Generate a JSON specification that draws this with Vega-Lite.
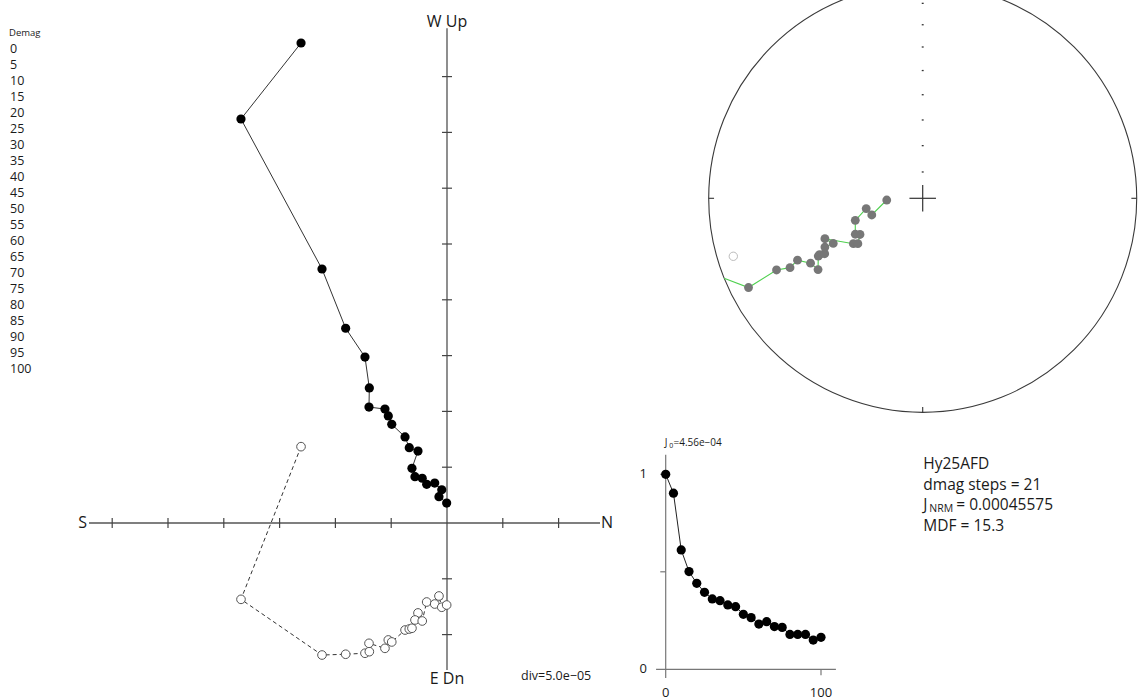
{
  "$schema": "https://vega.github.io/schema/vega-lite/v6.json",
  "width": 1141,
  "height": 700,
  "autosize": {"type": "none"},
  "padding": 0,
  "background": "white",
  "config": {"view": {"stroke": null}, "axis": {"disable": true}, "font": "Open Sans", "text": {"font": "Open Sans", "color": "#1a1a1a", "fill": "#1a1a1a"}},
  "data": {"values": [{}]},
  "datasets": {
    "zij": [
      {"step": 0, "n": -13.08, "w": 43.01, "up": 6.84},
      {"step": 5, "n": -18.46, "w": 36.20, "up": -6.84},
      {"step": 10, "n": -11.20, "w": 22.76, "up": -11.83},
      {"step": 15, "n": -9.08, "w": 17.45, "up": -11.76},
      {"step": 20, "n": -7.35, "w": 14.87, "up": -11.67},
      {"step": 25, "n": -6.96, "w": 12.10, "up": -11.53},
      {"step": 30, "n": -6.99, "w": 10.39, "up": -10.78},
      {"step": 35, "n": -5.56, "w": 10.21, "up": -11.23},
      {"step": 40, "n": -5.26, "w": 9.59, "up": -10.48},
      {"step": 45, "n": -4.95, "w": 8.84, "up": -10.66},
      {"step": 50, "n": -3.76, "w": 7.71, "up": -9.59},
      {"step": 55, "n": -3.38, "w": 6.75, "up": -9.50},
      {"step": 60, "n": -2.60, "w": 6.45, "up": -8.06},
      {"step": 65, "n": -3.14, "w": 4.90, "up": -9.43},
      {"step": 70, "n": -2.87, "w": 4.15, "up": -8.69},
      {"step": 75, "n": -2.22, "w": 4.01, "up": -8.78},
      {"step": 80, "n": -1.82, "w": 3.47, "up": -7.08},
      {"step": 85, "n": -1.10, "w": 3.58, "up": -7.26},
      {"step": 90, "n": -0.47, "w": 2.98, "up": -7.55},
      {"step": 95, "n": -0.72, "w": 2.36, "up": -6.54},
      {"step": 100, "n": -0.03, "w": 1.79, "up": -7.35}
    ],
    "decay": [
      {"step": 0, "j": 1.0}, {"step": 5, "j": 0.903}, {"step": 10, "j": 0.612}, {"step": 15, "j": 0.501},
      {"step": 20, "j": 0.441}, {"step": 25, "j": 0.395}, {"step": 30, "j": 0.361}, {"step": 35, "j": 0.352},
      {"step": 40, "j": 0.330}, {"step": 45, "j": 0.321}, {"step": 50, "j": 0.282}, {"step": 55, "j": 0.265},
      {"step": 60, "j": 0.232}, {"step": 65, "j": 0.244}, {"step": 70, "j": 0.219}, {"step": 75, "j": 0.215},
      {"step": 80, "j": 0.179}, {"step": 85, "j": 0.179}, {"step": 90, "j": 0.179}, {"step": 95, "j": 0.150},
      {"step": 100, "j": 0.164}
    ],
    "net": [
      {"step": 0, "ex": -0.928, "ey": -0.374, "kind": "edge"},
      {"step": 0, "ex": -0.885, "ey": -0.271, "kind": "upper"},
      {"step": 5, "ex": -0.814, "ey": -0.417, "kind": "lower"},
      {"step": 10, "ex": -0.683, "ey": -0.335, "kind": "lower"},
      {"step": 15, "ex": -0.620, "ey": -0.324, "kind": "lower"},
      {"step": 20, "ex": -0.585, "ey": -0.289, "kind": "lower"},
      {"step": 25, "ex": -0.524, "ey": -0.303, "kind": "lower"},
      {"step": 30, "ex": -0.489, "ey": -0.333, "kind": "lower"},
      {"step": 35, "ex": -0.488, "ey": -0.270, "kind": "lower"},
      {"step": 40, "ex": -0.482, "ey": -0.263, "kind": "lower"},
      {"step": 45, "ex": -0.458, "ey": -0.259, "kind": "lower"},
      {"step": 50, "ex": -0.457, "ey": -0.228, "kind": "lower"},
      {"step": 55, "ex": -0.418, "ey": -0.211, "kind": "lower"},
      {"step": 60, "ex": -0.457, "ey": -0.189, "kind": "lower"},
      {"step": 65, "ex": -0.324, "ey": -0.212, "kind": "lower"},
      {"step": 70, "ex": -0.303, "ey": -0.212, "kind": "lower"},
      {"step": 75, "ex": -0.293, "ey": -0.169, "kind": "lower"},
      {"step": 80, "ex": -0.315, "ey": -0.168, "kind": "lower"},
      {"step": 85, "ex": -0.315, "ey": -0.103, "kind": "lower"},
      {"step": 90, "ex": -0.264, "ey": -0.048, "kind": "lower"},
      {"step": 95, "ex": -0.238, "ey": -0.078, "kind": "lower"},
      {"step": 100, "ex": -0.168, "ey": -0.008, "kind": "lower"}
    ]
  },
  "resolve": {"scale": {"x": "independent", "y": "independent"}},
  "layer": [
    {"mark": {"type": "rule", "color": "#555", "strokeWidth": 1.4},
     "encoding": {"x": {"datum": -32.08, "type": "quantitative", "scale": {"domain": [-40, 20], "range": [0.6, 670.2], "nice": false, "zero": false}}, "x2": {"datum": 13.71},
                  "y": {"datum": 0, "type": "quantitative", "scale": {"domain": [-20, 50], "range": [746.2, -35], "nice": false, "zero": false}}}},
    {"mark": {"type": "rule", "color": "#444", "strokeWidth": 1.2},
     "encoding": {"x": {"datum": 0, "type": "quantitative", "scale": {"domain": [-40, 20], "range": [0.6, 670.2], "nice": false, "zero": false}},
                  "y": {"datum": 44.33, "type": "quantitative", "scale": {"domain": [-20, 50], "range": [746.2, -35], "nice": false, "zero": false}}, "y2": {"datum": -13.17}}},
    {"data": {"values": [{"t": -30}, {"t": -25}, {"t": -20}, {"t": -15}, {"t": -10}, {"t": -5}, {"t": 5}, {"t": 10}]},
     "mark": {"type": "rule", "color": "#444", "strokeWidth": 1.2},
     "encoding": {"x": {"field": "t", "type": "quantitative", "scale": {"domain": [-40, 20], "range": [0.6, 670.2], "nice": false, "zero": false}},
                  "y": {"datum": -0.45, "type": "quantitative", "scale": {"domain": [-20, 50], "range": [746.2, -35], "nice": false, "zero": false}}, "y2": {"datum": 0.45}}},
    {"data": {"values": [{"t": -10}, {"t": -5}, {"t": 5}, {"t": 10}, {"t": 15}, {"t": 20}, {"t": 25}, {"t": 30}, {"t": 35}, {"t": 40}]},
     "mark": {"type": "rule", "color": "#444", "strokeWidth": 1.2},
     "encoding": {"y": {"field": "t", "type": "quantitative", "scale": {"domain": [-20, 50], "range": [746.2, -35], "nice": false, "zero": false}},
                  "x": {"datum": -0.45, "type": "quantitative", "scale": {"domain": [-40, 20], "range": [0.6, 670.2], "nice": false, "zero": false}}, "x2": {"datum": 0.45}}},
    {"data": {"name": "zij"},
     "mark": {"type": "line", "color": "#333", "strokeWidth": 1, "strokeDash": [4, 3]},
     "encoding": {"x": {"field": "n", "type": "quantitative", "scale": {"domain": [-40, 20], "range": [0.6, 670.2], "nice": false, "zero": false}},
                  "y": {"field": "up", "type": "quantitative", "scale": {"domain": [-20, 50], "range": [746.2, -35], "nice": false, "zero": false}},
                  "order": {"field": "step", "type": "quantitative"}}},
    {"data": {"name": "zij"},
     "mark": {"type": "line", "color": "#333", "strokeWidth": 1},
     "encoding": {"x": {"field": "n", "type": "quantitative", "scale": {"domain": [-40, 20], "range": [0.6, 670.2], "nice": false, "zero": false}},
                  "y": {"field": "w", "type": "quantitative", "scale": {"domain": [-20, 50], "range": [746.2, -35], "nice": false, "zero": false}},
                  "order": {"field": "step", "type": "quantitative"}}},
    {"data": {"name": "zij"},
     "mark": {"type": "point", "shape": "circle", "filled": true, "fill": "white", "stroke": "#555", "strokeWidth": 1, "size": 75, "opacity": 1},
     "encoding": {"x": {"field": "n", "type": "quantitative", "scale": {"domain": [-40, 20], "range": [0.6, 670.2], "nice": false, "zero": false}},
                  "y": {"field": "up", "type": "quantitative", "scale": {"domain": [-20, 50], "range": [746.2, -35], "nice": false, "zero": false}}}},
    {"data": {"name": "zij"},
     "mark": {"type": "point", "shape": "circle", "filled": true, "color": "black", "size": 85, "opacity": 1},
     "encoding": {"x": {"field": "n", "type": "quantitative", "scale": {"domain": [-40, 20], "range": [0.6, 670.2], "nice": false, "zero": false}},
                  "y": {"field": "w", "type": "quantitative", "scale": {"domain": [-20, 50], "range": [746.2, -35], "nice": false, "zero": false}}}},
    {"mark": {"type": "text", "text": "S", "fontSize": 16, "align": "center", "baseline": "middle", "color": "#1a1a1a"},
     "encoding": {"x": {"datum": -32.65, "type": "quantitative", "scale": {"domain": [-40, 20], "range": [0.6, 670.2], "nice": false, "zero": false}},
                  "y": {"datum": 0, "type": "quantitative", "scale": {"domain": [-20, 50], "range": [746.2, -35], "nice": false, "zero": false}}}},
    {"mark": {"type": "text", "text": "N", "fontSize": 16, "align": "center", "baseline": "middle", "color": "#1a1a1a"},
     "encoding": {"x": {"datum": 14.34, "type": "quantitative", "scale": {"domain": [-40, 20], "range": [0.6, 670.2], "nice": false, "zero": false}},
                  "y": {"datum": 0, "type": "quantitative", "scale": {"domain": [-20, 50], "range": [746.2, -35], "nice": false, "zero": false}}}},
    {"mark": {"type": "text", "text": "W Up", "fontSize": 16, "align": "center", "baseline": "alphabetic", "color": "#1a1a1a"},
     "encoding": {"x": {"datum": 0, "type": "quantitative", "scale": {"domain": [-40, 20], "range": [0.6, 670.2], "nice": false, "zero": false}},
                  "y": {"datum": 44.47, "type": "quantitative", "scale": {"domain": [-20, 50], "range": [746.2, -35], "nice": false, "zero": false}}}},
    {"mark": {"type": "text", "text": "E Dn", "fontSize": 16, "align": "center", "baseline": "alphabetic", "color": "#1a1a1a"},
     "encoding": {"x": {"datum": 0, "type": "quantitative", "scale": {"domain": [-40, 20], "range": [0.6, 670.2], "nice": false, "zero": false}},
                  "y": {"datum": -14.4, "type": "quantitative", "scale": {"domain": [-20, 50], "range": [746.2, -35], "nice": false, "zero": false}}}},
    {"mark": {"type": "text", "text": "div=5.0e\u221205", "fontSize": 12.5, "align": "left", "baseline": "middle", "color": "#1a1a1a"},
     "encoding": {"x": {"datum": 6.63, "type": "quantitative", "scale": {"domain": [-40, 20], "range": [0.6, 670.2], "nice": false, "zero": false}},
                  "y": {"datum": -13.7, "type": "quantitative", "scale": {"domain": [-20, 50], "range": [746.2, -35], "nice": false, "zero": false}}}},

    {"mark": {"type": "rule", "color": "#777", "strokeWidth": 1.2},
     "encoding": {"x": {"datum": -6.2, "type": "quantitative", "scale": {"domain": [0, 100], "range": [665.7, 821], "nice": false, "zero": false}}, "x2": {"datum": 109.6},
                  "y": {"datum": 0, "type": "quantitative", "scale": {"domain": [0, 1], "range": [669.3, 474.3], "nice": false, "zero": false}}}},
    {"mark": {"type": "rule", "color": "#777", "strokeWidth": 1.2},
     "encoding": {"x": {"datum": 0, "type": "quantitative", "scale": {"domain": [0, 100], "range": [665.7, 821], "nice": false, "zero": false}},
                  "y": {"datum": -0.045, "type": "quantitative", "scale": {"domain": [0, 1], "range": [669.3, 474.3], "nice": false, "zero": false}}, "y2": {"datum": 1.1}}},
    {"data": {"values": [{"t": 0.5}, {"t": 1}]},
     "mark": {"type": "rule", "color": "#777", "strokeWidth": 1.2},
     "encoding": {"y": {"field": "t", "type": "quantitative", "scale": {"domain": [0, 1], "range": [669.3, 474.3], "nice": false, "zero": false}},
                  "x": {"datum": -3.5, "type": "quantitative", "scale": {"domain": [0, 100], "range": [665.7, 821], "nice": false, "zero": false}}, "x2": {"datum": 0}}},
    {"mark": {"type": "rule", "color": "#777", "strokeWidth": 1.2},
     "encoding": {"x": {"datum": 100, "type": "quantitative", "scale": {"domain": [0, 100], "range": [665.7, 821], "nice": false, "zero": false}},
                  "y": {"datum": 0, "type": "quantitative", "scale": {"domain": [0, 1], "range": [669.3, 474.3], "nice": false, "zero": false}}, "y2": {"datum": -0.03}}},
    {"data": {"name": "decay"},
     "mark": {"type": "line", "color": "#222", "strokeWidth": 1},
     "encoding": {"x": {"field": "step", "type": "quantitative", "scale": {"domain": [0, 100], "range": [665.7, 821], "nice": false, "zero": false}},
                  "y": {"field": "j", "type": "quantitative", "scale": {"domain": [0, 1], "range": [669.3, 474.3], "nice": false, "zero": false}}}},
    {"data": {"name": "decay"},
     "mark": {"type": "point", "shape": "circle", "filled": true, "color": "black", "size": 85, "opacity": 1},
     "encoding": {"x": {"field": "step", "type": "quantitative", "scale": {"domain": [0, 100], "range": [665.7, 821], "nice": false, "zero": false}},
                  "y": {"field": "j", "type": "quantitative", "scale": {"domain": [0, 1], "range": [669.3, 474.3], "nice": false, "zero": false}}}},
    {"data": {"values": [{"t": 0}, {"t": 1}]},
     "mark": {"type": "text", "fontSize": 13, "align": "center", "baseline": "middle", "color": "#1a1a1a"},
     "encoding": {"text": {"field": "t", "type": "quantitative"},
                  "x": {"datum": -14.4, "type": "quantitative", "scale": {"domain": [0, 100], "range": [665.7, 821], "nice": false, "zero": false}},
                  "y": {"field": "t", "type": "quantitative", "scale": {"domain": [0, 1], "range": [669.3, 474.3], "nice": false, "zero": false}}}},
    {"data": {"values": [{"t": 0}, {"t": 100}]},
     "mark": {"type": "text", "fontSize": 13, "align": "center", "baseline": "middle", "color": "#1a1a1a"},
     "encoding": {"text": {"field": "t", "type": "quantitative"},
                  "x": {"field": "t", "type": "quantitative", "scale": {"domain": [0, 100], "range": [665.7, 821], "nice": false, "zero": false}},
                  "y": {"datum": -0.12, "type": "quantitative", "scale": {"domain": [0, 1], "range": [669.3, 474.3], "nice": false, "zero": false}}}},
    {"mark": {"type": "text", "text": "J", "fontSize": 10, "align": "left", "baseline": "middle", "color": "#1a1a1a"},
     "encoding": {"x": {"datum": -0.6, "type": "quantitative", "scale": {"domain": [0, 100], "range": [665.7, 821], "nice": false, "zero": false}},
                  "y": {"datum": 1.161, "type": "quantitative", "scale": {"domain": [0, 1], "range": [669.3, 474.3], "nice": false, "zero": false}}}},
    {"mark": {"type": "text", "text": "0", "fontSize": 7, "align": "left", "baseline": "middle", "color": "#1a1a1a"},
     "encoding": {"x": {"datum": 2.3, "type": "quantitative", "scale": {"domain": [0, 100], "range": [665.7, 821], "nice": false, "zero": false}},
                  "y": {"datum": 1.146, "type": "quantitative", "scale": {"domain": [0, 1], "range": [669.3, 474.3], "nice": false, "zero": false}}}},
    {"mark": {"type": "text", "text": "=4.56e\u221204", "fontSize": 10, "align": "left", "baseline": "middle", "color": "#1a1a1a"},
     "encoding": {"x": {"datum": 5.0, "type": "quantitative", "scale": {"domain": [0, 100], "range": [665.7, 821], "nice": false, "zero": false}},
                  "y": {"datum": 1.161, "type": "quantitative", "scale": {"domain": [0, 1], "range": [669.3, 474.3], "nice": false, "zero": false}}}},

    {"mark": {"type": "point", "shape": "circle", "filled": false, "stroke": "#3a3a3a", "strokeWidth": 1.1, "size": 183184, "opacity": 1},
     "encoding": {"x": {"datum": 0, "type": "quantitative", "scale": {"domain": [-1, 1], "range": [708.7, 1136.7], "nice": false, "zero": false}},
                  "y": {"datum": 0, "type": "quantitative", "scale": {"domain": [-1, 1], "range": [412.3, -15.7], "nice": false, "zero": false}}}},
    {"mark": {"type": "rule", "color": "#333", "strokeWidth": 1.2},
     "encoding": {"x": {"datum": -0.062, "type": "quantitative", "scale": {"domain": [-1, 1], "range": [708.7, 1136.7], "nice": false, "zero": false}}, "x2": {"datum": 0.062},
                  "y": {"datum": 0, "type": "quantitative", "scale": {"domain": [-1, 1], "range": [412.3, -15.7], "nice": false, "zero": false}}}},
    {"mark": {"type": "rule", "color": "#333", "strokeWidth": 1.2},
     "encoding": {"x": {"datum": 0, "type": "quantitative", "scale": {"domain": [-1, 1], "range": [708.7, 1136.7], "nice": false, "zero": false}},
                  "y": {"datum": -0.062, "type": "quantitative", "scale": {"domain": [-1, 1], "range": [412.3, -15.7], "nice": false, "zero": false}}, "y2": {"datum": 0.062}}},
    {"mark": {"type": "rule", "color": "#333", "strokeWidth": 1.1},
     "encoding": {"x": {"datum": -1, "type": "quantitative", "scale": {"domain": [-1, 1], "range": [708.7, 1136.7], "nice": false, "zero": false}}, "x2": {"datum": -0.975},
                  "y": {"datum": 0, "type": "quantitative", "scale": {"domain": [-1, 1], "range": [412.3, -15.7], "nice": false, "zero": false}}}},
    {"mark": {"type": "rule", "color": "#333", "strokeWidth": 1.1},
     "encoding": {"x": {"datum": 0.975, "type": "quantitative", "scale": {"domain": [-1, 1], "range": [708.7, 1136.7], "nice": false, "zero": false}}, "x2": {"datum": 1},
                  "y": {"datum": 0, "type": "quantitative", "scale": {"domain": [-1, 1], "range": [412.3, -15.7], "nice": false, "zero": false}}}},
    {"mark": {"type": "rule", "color": "#333", "strokeWidth": 1.1},
     "encoding": {"x": {"datum": 0, "type": "quantitative", "scale": {"domain": [-1, 1], "range": [708.7, 1136.7], "nice": false, "zero": false}},
                  "y": {"datum": -1, "type": "quantitative", "scale": {"domain": [-1, 1], "range": [412.3, -15.7], "nice": false, "zero": false}}, "y2": {"datum": -0.975}}},
    {"data": {"values": [{"r": 0.123}, {"r": 0.246}, {"r": 0.366}, {"r": 0.484}, {"r": 0.597}, {"r": 0.707}, {"r": 0.811}, {"r": 0.911}]},
     "mark": {"type": "rule", "color": "#333", "strokeWidth": 1.3},
     "encoding": {"y": {"field": "r", "type": "quantitative", "scale": {"domain": [-1, 1], "range": [412.3, -15.7], "nice": false, "zero": false}},
                  "x": {"datum": -0.0045, "type": "quantitative", "scale": {"domain": [-1, 1], "range": [708.7, 1136.7], "nice": false, "zero": false}}, "x2": {"datum": 0.0045}}},
    {"data": {"name": "net"},
     "transform": [{"filter": "datum.kind != 'upper'"}],
     "mark": {"type": "line", "color": "#4fd04f", "strokeWidth": 1.1},
     "encoding": {"x": {"field": "ex", "type": "quantitative", "scale": {"domain": [-1, 1], "range": [708.7, 1136.7], "nice": false, "zero": false}},
                  "y": {"field": "ey", "type": "quantitative", "scale": {"domain": [-1, 1], "range": [412.3, -15.7], "nice": false, "zero": false}},
                  "order": {"field": "step", "type": "quantitative"}}},
    {"data": {"name": "net"},
     "transform": [{"filter": "datum.kind == 'lower'"}],
     "mark": {"type": "point", "shape": "circle", "filled": true, "color": "#777777", "size": 78, "opacity": 1},
     "encoding": {"x": {"field": "ex", "type": "quantitative", "scale": {"domain": [-1, 1], "range": [708.7, 1136.7], "nice": false, "zero": false}},
                  "y": {"field": "ey", "type": "quantitative", "scale": {"domain": [-1, 1], "range": [412.3, -15.7], "nice": false, "zero": false}}}},
    {"data": {"name": "net"},
     "transform": [{"filter": "datum.kind == 'upper'"}],
     "mark": {"type": "point", "shape": "circle", "filled": false, "stroke": "#bbbbbb", "strokeWidth": 1, "size": 70, "opacity": 1},
     "encoding": {"x": {"field": "ex", "type": "quantitative", "scale": {"domain": [-1, 1], "range": [708.7, 1136.7], "nice": false, "zero": false}},
                  "y": {"field": "ey", "type": "quantitative", "scale": {"domain": [-1, 1], "range": [412.3, -15.7], "nice": false, "zero": false}}}},

    {"mark": {"type": "text", "text": "Demag", "fontSize": 9.5, "align": "left", "baseline": "middle", "color": "#1a1a1a"},
     "encoding": {"x": {"datum": 0, "type": "quantitative", "scale": {"domain": [0, 1], "range": [9, 10], "nice": false, "zero": false}},
                  "y": {"datum": -5, "type": "quantitative", "scale": {"domain": [0, 100], "range": [49.3, 369.3], "nice": false, "zero": false}}}},
    {"data": {"name": "decay"},
     "mark": {"type": "text", "fontSize": 12.5, "align": "left", "baseline": "middle", "color": "#1a1a1a"},
     "encoding": {"text": {"field": "step", "type": "quantitative"},
                  "x": {"datum": 0, "type": "quantitative", "scale": {"domain": [0, 1], "range": [10, 11], "nice": false, "zero": false}},
                  "y": {"field": "step", "type": "quantitative", "scale": {"domain": [0, 100], "range": [49.3, 369.3], "nice": false, "zero": false}}}},

    {"data": {"values": [{"line": 1, "label": "Hy25AFD"}, {"line": 2, "label": "dmag steps = 21"}, {"line": 4, "label": "MDF = 15.3"}]},
     "mark": {"type": "text", "fontSize": 15.5, "align": "left", "baseline": "middle", "color": "#1a1a1a"},
     "encoding": {"text": {"field": "label", "type": "nominal"},
                  "x": {"datum": 0, "type": "quantitative", "scale": {"domain": [0, 1], "range": [923.3, 924.3], "nice": false, "zero": false}},
                  "y": {"field": "line", "type": "quantitative", "scale": {"domain": [1, 4], "range": [464, 526], "nice": false, "zero": false}}}},
    {"mark": {"type": "text", "text": "J", "fontSize": 15.5, "align": "left", "baseline": "middle", "color": "#1a1a1a"},
     "encoding": {"x": {"datum": 0, "type": "quantitative", "scale": {"domain": [0, 1], "range": [923.3, 924.3], "nice": false, "zero": false}},
                  "y": {"datum": 3, "type": "quantitative", "scale": {"domain": [1, 4], "range": [464, 526], "nice": false, "zero": false}}}},
    {"mark": {"type": "text", "text": "NRM", "fontSize": 10.5, "align": "left", "baseline": "middle", "color": "#1a1a1a"},
     "encoding": {"x": {"datum": 6, "type": "quantitative", "scale": {"domain": [0, 1], "range": [923.3, 924.3], "nice": false, "zero": false}},
                  "y": {"datum": 3.2, "type": "quantitative", "scale": {"domain": [1, 4], "range": [464, 526], "nice": false, "zero": false}}}},
    {"mark": {"type": "text", "text": "= 0.00045575", "fontSize": 15.5, "align": "left", "baseline": "middle", "color": "#1a1a1a"},
     "encoding": {"x": {"datum": 33, "type": "quantitative", "scale": {"domain": [0, 1], "range": [923.3, 924.3], "nice": false, "zero": false}},
                  "y": {"datum": 3, "type": "quantitative", "scale": {"domain": [1, 4], "range": [464, 526], "nice": false, "zero": false}}}}
  ]
}
